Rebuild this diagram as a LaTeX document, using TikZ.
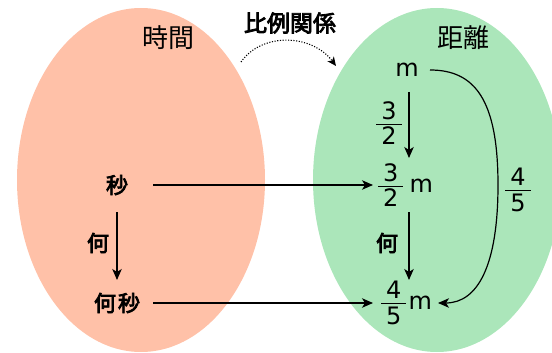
\documentclass[tikz,border=0pt]{standalone}
\usepackage{fontspec}
\setmainfont{DejaVu Sans}
\newfontfamily\cjk{Noto Sans CJK JP}
\newfontfamily\cjkb[FakeBold=3.5]{Noto Sans CJK JP}
\usetikzlibrary{shapes.geometric,arrows.meta}
\definecolor{salmon}{RGB}{255,193,168}
\definecolor{mint}{RGB}{171,230,186}
\newcommand\fr[2]{$\frac{\mbox{\hspace{5pt}\rule[-4pt]{0pt}{20pt}#1\hspace{5pt}}}{\mbox{\hspace{5pt}\rule{0pt}{20pt}#2\hspace{5pt}}}$}
\begin{document}
\begin{tikzpicture}[x=1pt,y=-1pt,
  every node/.style={inner sep=0pt, outer sep=0pt},
  arr/.style={line width=1.2pt, -{Stealth[length=11pt,width=9.5pt,inset=3pt]}},
  cjtitle/.style={font=\cjk\fontsize{26}{30}\selectfont},
  cjb/.style={font=\cjkb\fontsize{22}{26}\selectfont},
  lat/.style={font=\fontsize{24}{28}\selectfont},
  blob/.style={ellipse, minimum width=248pt, minimum height=344pt}]
\useasboundingbox (0,0) rectangle (552,353);
\clip (0,0) rectangle (552,353);
\node[blob, fill=salmon] (ellL) at (141,180) {};
\node[blob, fill=mint] (ellR) at (437,180) {};
\node[cjtitle] (tL) at (168,38) {時間};
\node[cjtitle] (tR) at (463,38) {距離};
\node[font=\cjkb\fontsize{23}{27}\selectfont] (rel) at (290,23) {比例関係};
\coordinate (dS) at (241,62);
\coordinate (dE) at (336,66);
\draw[line width=1.1pt, dash pattern=on 1.1pt off 1.6pt, -{Stealth[length=9pt,width=8pt,inset=2.5pt]}] (dS) .. controls (262,32) and (312,34) .. (dE);
% left
\node[cjb] (sec) at (117,185) {秒};
\node[cjb] (nsec) at (117,303) {何\hspace{2pt}秒};
\node[cjb] (qL) at (98,243) {何};
% right
\node[lat] (m) at (407,70) {m};
\node[lat] (f32) at (389,123) {\fr{3}{2}};
\node[lat] (m32) at (405,185) {\fr{3}{2}\hspace{5pt}m};
\node[cjb] (qR) at (387,243) {何};
\node[lat] (m45) at (406,303) {\fr{4}{5}\hspace{1pt}m};
\node[lat] (f45) at (518,190) {\fr{4}{5}};
% connectors
\draw[arr, shorten <=36pt, shorten >=32pt] (sec.center) -- (sec.center -| m32.center);
\draw[arr, shorten <=36pt, shorten >=33pt] (nsec.center) -- (nsec.center -| m45.center);
\draw[arr, shorten <=27pt, shorten >=23pt] (sec.center) -- (nsec.center);
\draw[arr, shorten <=22pt, shorten >=27pt] ([xshift=2pt]m.center) -- ([xshift=2pt]m.center |- m32.center);
\draw[arr, shorten <=27pt, shorten >=23pt] ([xshift=2pt]m.center |- m32.center) -- ([xshift=2pt]m.center |- m45.center);
\draw[arr] ([xshift=23pt]m.center) .. controls (475,70) and (498,100) .. (498,185) .. controls (498,265) and (478,303) .. ([xshift=32pt]m45.center);
\end{tikzpicture}
\end{document}
